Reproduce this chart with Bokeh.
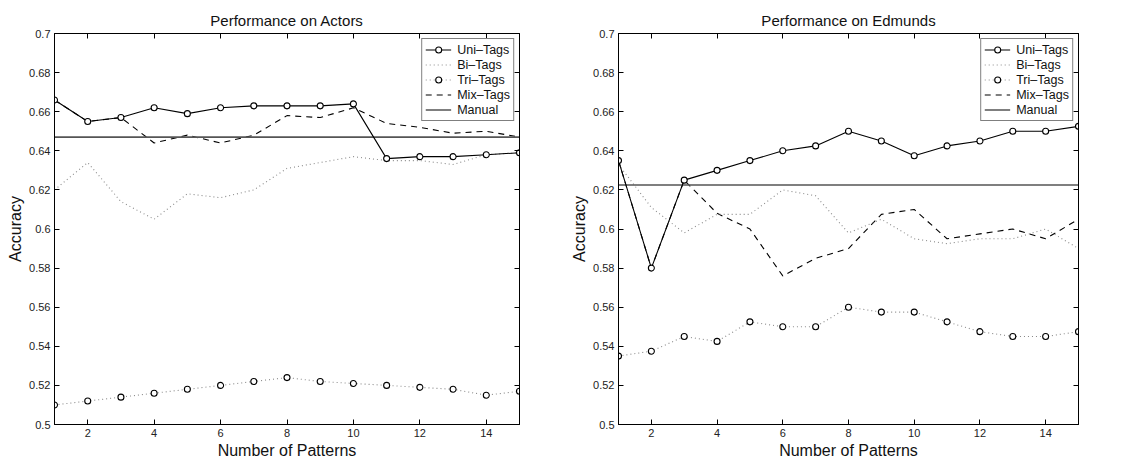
from bokeh.plotting import figure
from bokeh.layouts import row
from bokeh.models import FixedTicker, Legend, LinearAxis
from bokeh.embed import file_html
from bokeh.resources import INLINE

# ---- data ----
patterns = list(range(1, 16))

actors_uni = [0.666, 0.655, 0.657, 0.662, 0.659, 0.662, 0.663, 0.663, 0.663, 0.664, 0.636, 0.637, 0.637, 0.638, 0.639]
actors_bi = [0.620, 0.634, 0.614, 0.605, 0.618, 0.616, 0.620, 0.631, 0.634, 0.637, 0.635, 0.635, 0.633, 0.638, 0.639]
actors_tri = [0.510, 0.512, 0.514, 0.516, 0.518, 0.520, 0.522, 0.524, 0.522, 0.521, 0.520, 0.519, 0.518, 0.515, 0.517]
actors_mix = [0.666, 0.655, 0.657, 0.644, 0.648, 0.644, 0.648, 0.658, 0.657, 0.662, 0.654, 0.652, 0.649, 0.650, 0.647]
actors_manual = 0.647

edmunds_uni = [0.635, 0.580, 0.625, 0.630, 0.635, 0.640, 0.6425, 0.650, 0.645, 0.6375, 0.6425, 0.645, 0.650, 0.650, 0.6525]
edmunds_bi = [0.633, 0.611, 0.598, 0.6075, 0.6075, 0.620, 0.617, 0.598, 0.605, 0.595, 0.5925, 0.595, 0.595, 0.600, 0.590]
edmunds_tri = [0.535, 0.5375, 0.545, 0.5425, 0.5525, 0.550, 0.550, 0.560, 0.5575, 0.5575, 0.5525, 0.5475, 0.545, 0.545, 0.5475]
edmunds_mix = [0.635, 0.580, 0.625, 0.608, 0.600, 0.576, 0.585, 0.590, 0.6075, 0.610, 0.595, 0.5975, 0.600, 0.595, 0.605]
edmunds_manual = 0.6225

x_ticks = [2, 4, 6, 8, 10, 12, 14]
y_ticks = [0.5, 0.52, 0.54, 0.56, 0.58, 0.6, 0.62, 0.64, 0.66, 0.68, 0.7]
y_tick_labels = ["0.5", "0.52", "0.54", "0.56", "0.58", "0.6", "0.62", "0.64", "0.66", "0.68", "0.7"]

series_names = ["Uni\u2013Tags", "Bi\u2013Tags", "Tri\u2013Tags", "Mix\u2013Tags", "Manual"]

FONT = "Liberation Sans"


def make_fig(title, uni, bi, tri, mix, manual, width, b_left, b_right):
    p = figure(width=width, height=462, output_backend="svg", toolbar_location=None,
               x_range=(patterns[0], patterns[-1]), y_range=(y_ticks[0], y_ticks[-1]),
               min_border_left=b_left, min_border_right=b_right,
               min_border_top=33, min_border_bottom=38)
    p.title.text = title
    p.title.align = "center"
    p.title.text_font = FONT
    p.title.text_font_size = "15px"
    p.title.text_font_style = "normal"
    p.title.text_color = "#111111"
    p.title.offset = 0
    p.grid.visible = False
    p.outline_line_color = "black"
    p.outline_line_width = 1
    p.background_fill_color = "white"
    p.border_fill_color = "white"

    ylab = dict(zip(y_ticks, y_tick_labels))
    for ax in (p.xaxis[0], p.yaxis[0]):
        ax.major_tick_in = 5
        ax.major_tick_out = 0
        ax.minor_tick_in = 0
        ax.minor_tick_out = 0
        ax.axis_line_color = "black"
        ax.major_tick_line_color = "black"
        ax.major_label_text_font = FONT
        ax.major_label_text_font_size = "11px"
        ax.major_label_text_color = "#222222"
        ax.axis_label_text_font = FONT
        ax.axis_label_text_font_size = "16px"
        ax.axis_label_text_font_style = "normal"
        ax.axis_label_text_color = "#111111"
    p.xaxis[0].ticker = FixedTicker(ticks=x_ticks)
    p.yaxis[0].ticker = FixedTicker(ticks=y_ticks)
    p.yaxis[0].major_label_overrides = ylab
    p.xaxis[0].axis_label = "Number of Patterns"
    p.yaxis[0].axis_label = "Accuracy"
    p.xaxis[0].major_label_standoff = 4
    p.yaxis[0].major_label_standoff = 4
    p.xaxis[0].axis_label_standoff = 2
    p.yaxis[0].axis_label_standoff = 2

    # box ticks on top and right (no labels drawn)
    top = LinearAxis(ticker=FixedTicker(ticks=x_ticks), major_tick_in=5, major_tick_out=0,
                     minor_tick_in=0, minor_tick_out=0, major_label_text_font_size="1px",
                     major_label_text_color=None, major_label_standoff=0,
                     axis_line_color="black")
    right = LinearAxis(ticker=FixedTicker(ticks=y_ticks), major_tick_in=5, major_tick_out=0,
                       minor_tick_in=0, minor_tick_out=0, major_label_text_font_size="1px",
                       major_label_text_color=None, major_label_standoff=0,
                       axis_line_color="black")
    p.add_layout(top, "above")
    p.add_layout(right, "right")

    r_mix = p.line(patterns, mix, line_color="black", line_width=1.1, line_dash="6 5")
    r_bi = p.line(patterns, bi, line_color="#8a8a8a", line_width=1.1, line_dash="1 3")
    r_tri_l = p.line(patterns, tri, line_color="#8a8a8a", line_width=1.1, line_dash="1 3")
    r_tri_m = p.scatter(patterns, tri, marker="circle", size=6, fill_color="white",
                        line_color="black", line_width=1.1)
    r_man = p.line([patterns[0], patterns[-1]], [manual, manual], line_color="#555555", line_width=1.6)
    r_uni_l = p.line(patterns, uni, line_color="black", line_width=1.1)
    r_uni_m = p.scatter(patterns, uni, marker="circle", size=6, fill_color="white",
                        line_color="black", line_width=1.1)

    legend = Legend(items=[
        (series_names[0], [r_uni_l, r_uni_m]),
        (series_names[1], [r_bi]),
        (series_names[2], [r_tri_l, r_tri_m]),
        (series_names[3], [r_mix]),
        (series_names[4], [r_man]),
    ], location="top_right")
    legend.margin = 5
    legend.padding = 3
    legend.spacing = 0
    legend.glyph_width = 26
    legend.glyph_height = 15
    legend.label_height = 15
    legend.label_standoff = 6
    legend.label_text_font = FONT
    legend.label_text_font_size = "12.5px"
    legend.label_text_color = "#111111"
    legend.border_line_color = "black"
    legend.border_line_width = 1.2
    legend.background_fill_color = "white"
    legend.background_fill_alpha = 1.0
    p.add_layout(legend, "center")
    return p


p1 = make_fig("Performance on Actors", actors_uni, actors_bi, actors_tri, actors_mix,
              actors_manual, 560, 54, 41)
p2 = make_fig("Performance on Edmunds", edmunds_uni, edmunds_bi, edmunds_tri, edmunds_mix,
              edmunds_manual, 565, 58, 47)

layout = row(p1, p2, spacing=0)
open("out.html", "w").write(file_html(layout, INLINE))
